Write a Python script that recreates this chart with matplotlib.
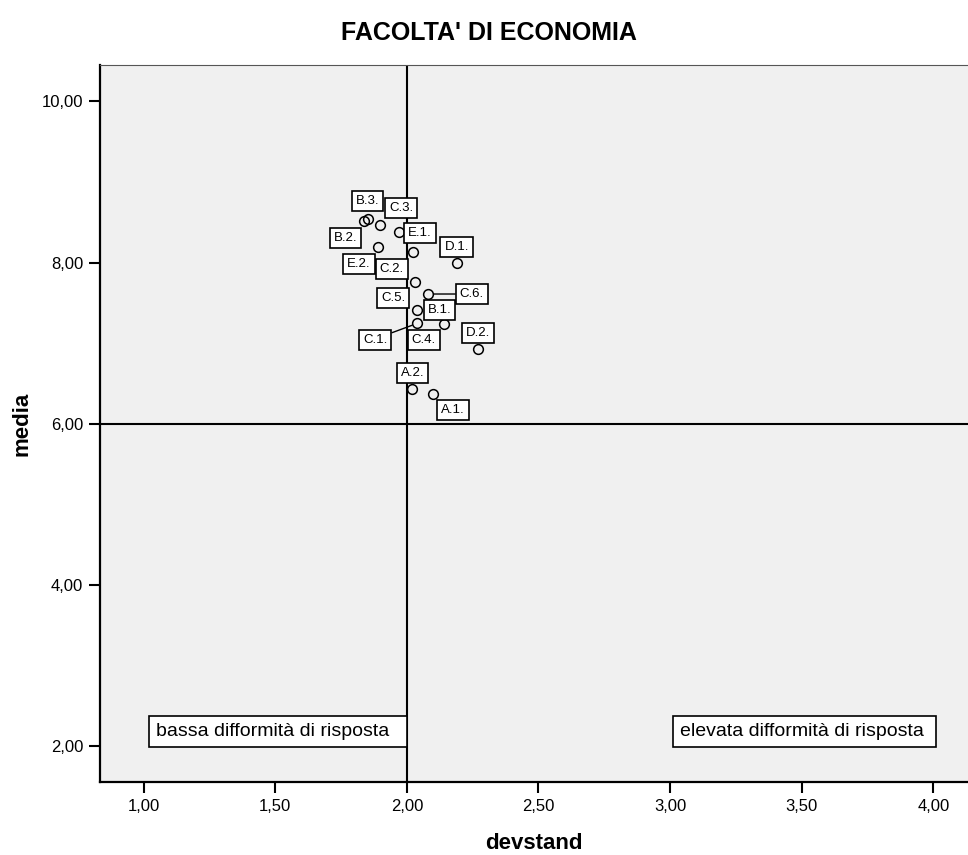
import matplotlib
matplotlib.use("Agg")
import matplotlib.pyplot as plt
from matplotlib.ticker import FuncFormatter

plt.rcParams['font.family'] = ['Liberation Sans', 'DejaVu Sans']

# item labels, standard deviation and mean
labels = ['B.3.', 'B.2.', 'C.3.', 'E.1.', 'E.2.', 'C.2.', 'D.1.', 'C.5.',
          'C.6.', 'B.1.', 'C.1.', 'C.4.', 'D.2.', 'A.2.', 'A.1.']
devstand = [1.851, 1.836, 1.899, 1.970, 1.890, 2.022, 2.189, 2.032,
            2.080, 2.040, 2.040, 2.140, 2.270, 2.021, 2.100]
media = [8.545, 8.516, 8.467, 8.376, 8.194, 8.135, 7.991, 7.755,
         7.610, 7.412, 7.246, 7.234, 6.927, 6.427, 6.365]

ref_devstand = 2.0
ref_media = 6.0
xticks = [1.0, 1.5, 2.0, 2.5, 3.0, 3.5, 4.0]
yticks = [2.0, 4.0, 6.0, 8.0, 10.0]

# label offsets in pixels (dx, dy up), and which ones get a leader line
label_offsets = {
    'B.3.': (0, 18), 'B.2.': (-18, -17), 'C.3.': (21, 17), 'E.1.': (21, -1),
    'E.2.': (-19, -17), 'C.2.': (-21, -17), 'D.1.': (0, 16), 'C.5.': (-22, -16),
    'C.6.': (44, 0), 'B.1.': (22, 0), 'C.1.': (-42, -17), 'C.4.': (-20, -16),
    'D.2.': (0, 16), 'A.2.': (0, 16), 'A.1.': (20, -16),
}
leaders = {'C.6.': (0.0, 0.5), 'C.1.': (1.0, 1.0)}

fig = plt.figure(figsize=(9.68, 8.55), dpi=100)
ax = fig.add_axes([100/968, 1 - 782/855, 868/968, (782 - 65)/855])
ax.set_facecolor('#f0f0f0')

ax.axvline(ref_devstand, color='black', lw=1.5, zorder=2)
ax.axhline(ref_media, color='black', lw=1.5, zorder=2)

ax.plot(devstand, media, 'o', ms=7, mfc='none', mec='black', mew=1.1, zorder=4)

for lab, x, y in zip(labels, devstand, media):
    dx, dy = label_offsets[lab]
    arrow = None
    if lab in leaders:
        arrow = dict(arrowstyle='-', color='black', lw=1.0, shrinkA=0, shrinkB=4,
                     relpos=leaders[lab])
    ax.annotate(lab, (x, y), xytext=(dx, dy), textcoords='offset pixels',
                ha='center', va='center', fontsize=9.5, zorder=5,
                bbox=dict(boxstyle='square,pad=0.3', fc='white', ec='black', lw=1.2),
                arrowprops=arrow)

box = dict(boxstyle='square,pad=0.36', fc='white', ec='black', lw=1.2)
ax.text(1.047, 2.173, 'bassa difformità di risposta  ', fontsize=14,
        ha='left', va='center', bbox=box, zorder=5)
ax.text(3.036, 2.173, 'elevata difformità di risposta ', fontsize=14,
        ha='left', va='center', bbox=box, zorder=5)

ax.set_xlim(0.834, 4.132)
ax.set_ylim(1.552, 10.453)
ax.set_xticks(xticks)
ax.set_yticks(yticks)
fmt = FuncFormatter(lambda v, p: f'{v:.2f}'.replace('.', ','))
ax.xaxis.set_major_formatter(fmt)
ax.yaxis.set_major_formatter(fmt)
ax.tick_params(length=8, width=1.5, labelsize=12, pad=4)

for s in ['left', 'bottom']:
    ax.spines[s].set_linewidth(1.6)
ax.spines['top'].set_linewidth(0.8)
ax.spines['top'].set_color('#555555')
ax.spines['right'].set_visible(False)

ax.set_xlabel('devstand', fontsize=16, fontweight='bold', labelpad=14)
ax.set_ylabel('media', fontsize=16, fontweight='bold', labelpad=7)
fig.text(0.505, 0.975, "FACOLTA' DI ECONOMIA", fontsize=18, fontweight='bold',
         ha='center', va='top')

fig.savefig('out.png', dpi=100)
